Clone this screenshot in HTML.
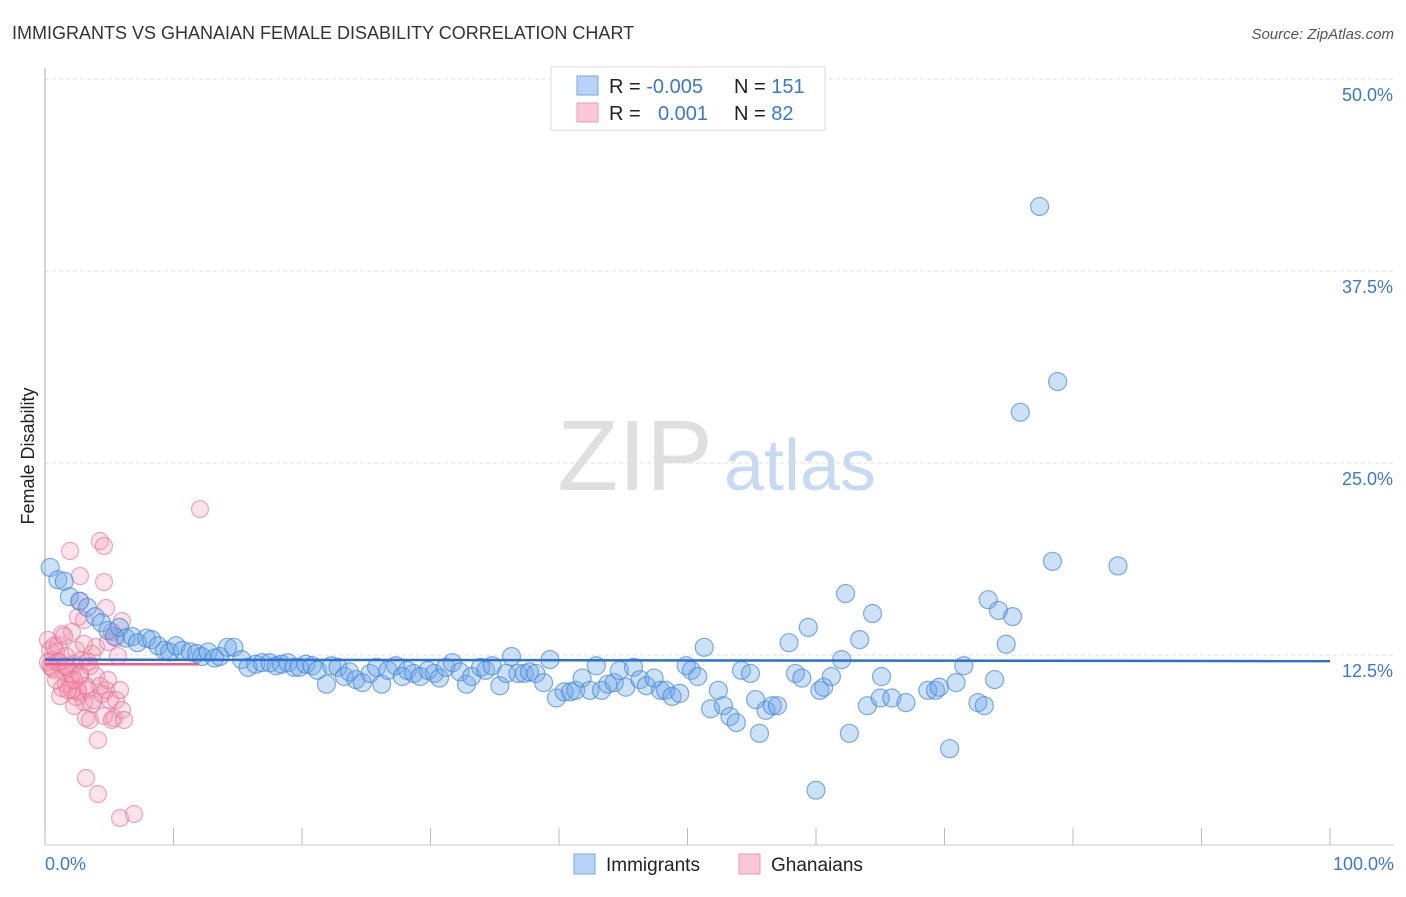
<!DOCTYPE html>
<html><head><meta charset="utf-8"><style>
body{margin:0;background:#fff;font-family:"Liberation Sans",sans-serif;}
svg text{font-family:"Liberation Sans",sans-serif;}
</style></head><body>
<svg id="chart" width="1406" height="892" xmlns="http://www.w3.org/2000/svg">
<text x="12" y="39" font-size="18" fill="#333">IMMIGRANTS VS GHANAIAN FEMALE DISABILITY CORRELATION CHART</text>
<text x="1394" y="39" font-size="15" fill="#555" text-anchor="end" font-style="italic">Source: ZipAtlas.com</text>
<g>
<text x="635" y="490" font-size="100" fill="#d8d8d8" text-anchor="middle" font-family="Liberation Serif,serif" opacity="0.8">ZIP</text>
<text x="800" y="490" font-size="72" fill="#c8daf2" text-anchor="middle">atlas</text>
</g>
<g id="grid"></g>
<line x1="45" y1="68" x2="45" y2="845" stroke="#aaa"/>
<line x1="45" y1="845" x2="1394" y2="845" stroke="#ccc"/>
<g id="xticks"></g>
<text x="45" y="870" font-size="18" fill="#3a78d0">0.0%</text>
<text x="1394" y="870" font-size="18" fill="#3a78d0" text-anchor="end">100.0%</text>
<text transform="translate(34,456) rotate(-90)" font-size="18" fill="#222" text-anchor="middle">Female Disability</text>
<g id="pink"></g><g id="blue"></g><g id="lines"></g>
<g>
<rect x="551" y="67" width="274" height="63" fill="#fff" stroke="#ddd"/>
<rect x="577" y="76" width="21" height="19" fill="#b8d3f5" stroke="#7aa7e0"/>
<rect x="577" y="103" width="21" height="19" fill="#f8c8d6" stroke="#ee9ab4"/>
<text x="609" y="93" font-size="20" fill="#222">R = <tspan fill="#3a78d0">-0.005</tspan></text>
<text x="734" y="93" font-size="20" fill="#222">N = <tspan fill="#3a78d0">151</tspan></text>
<text x="609" y="120" font-size="20" fill="#222">R = </text>
<text x="658" y="120" font-size="20" fill="#3a78d0">0.001</text>
<text x="734" y="120" font-size="20" fill="#222">N = <tspan fill="#3a78d0"> 82</tspan></text>
</g>
<g>
<rect x="574" y="854" width="21" height="20" fill="#b8d3f5" stroke="#7aa7e0"/>
<text x="606" y="871" font-size="19" fill="#222">Immigrants</text>
<rect x="739" y="854" width="21" height="20" fill="#f8c8d6" stroke="#ee9ab4"/>
<text x="771" y="871" font-size="19" fill="#222">Ghanaians</text>
</g>
</svg>
<script>
const yTicks=[12.5,25,37.5,50];
const yTickLabels=["12.5%","25.0%","37.5%","50.0%"];
const xTicks=[0,10,20,30,40,50,60,70,80,90,100];
const blueX=[0.4,1.0,1.5,1.9,2.7,3.3,3.9,4.4,4.9,5.4,5.8,6.3,6.8,7.2,7.9,8.3,8.8,9.3,9.7,10.2,10.7,11.3,11.8,12.2,12.7,13.2,13.6,14.2,14.7,15.3,15.8,16.4,16.9,17.5,18.0,18.4,18.9,19.4,19.8,20.3,20.8,21.2,21.9,22.3,22.8,23.3,23.7,24.2,24.7,25.3,25.8,26.2,26.7,27.3,27.8,28.2,28.7,29.2,29.8,30.3,30.7,31.2,31.7,32.3,32.8,33.2,33.9,34.3,34.8,35.4,35.9,36.3,36.8,37.3,37.7,38.2,38.8,39.3,39.8,40.4,40.9,41.3,41.8,42.4,42.9,43.3,43.8,44.3,44.7,45.2,45.8,46.3,46.8,47.4,47.9,48.3,48.8,49.4,49.9,50.3,50.8,51.3,51.8,52.4,52.8,53.3,53.8,54.2,54.9,55.3,55.6,56.1,56.6,57.0,57.9,58.4,58.9,59.4,60.0,60.3,60.6,61.2,62.0,62.3,62.6,63.4,64.0,64.4,65.1,65.0,65.9,67.0,68.7,69.3,69.6,70.4,70.9,71.5,72.6,73.1,73.4,73.9,74.2,74.8,75.3,75.9,77.4,78.4,78.8,83.5];
const blueY=[18.2,17.4,17.3,16.3,16.0,15.6,15.0,14.6,14.1,13.7,14.3,13.6,13.7,13.3,13.6,13.5,13.1,12.8,12.7,13.1,12.8,12.7,12.6,12.4,12.7,12.3,12.4,13.0,13.0,12.2,11.7,11.9,12.0,12.0,11.8,11.9,12.0,11.7,11.7,11.9,11.8,11.5,10.6,11.8,11.7,11.1,11.4,10.9,10.7,11.3,11.7,10.6,11.5,11.8,11.1,11.5,11.3,11.1,11.5,11.3,11.0,11.7,12.0,11.4,10.6,11.1,11.7,11.5,11.8,10.5,11.3,12.4,11.3,11.3,11.4,11.3,10.7,12.2,9.7,10.1,10.1,10.2,11.0,10.2,11.8,10.2,10.6,10.7,11.5,10.4,11.7,10.9,10.5,11.0,10.2,10.2,9.8,10.0,11.8,11.5,11.1,13.0,9.0,10.2,9.2,8.5,8.1,11.5,11.3,9.6,7.4,8.9,9.2,9.2,13.3,11.3,11.0,14.3,3.7,10.2,10.4,11.1,12.2,16.5,7.4,13.5,9.2,15.2,11.1,9.7,9.7,9.4,10.2,10.2,10.4,6.4,10.7,11.8,9.4,9.2,16.1,10.9,15.4,13.2,15.0,28.3,41.7,18.6,30.3,18.3];
const pinkX=[0.23,0.39,0.54,0.70,0.86,1.01,1.17,1.32,1.48,1.63,1.79,1.95,2.10,2.26,2.41,2.57,2.72,2.88,3.04,3.19,3.35,3.50,3.66,3.81,3.97,4.12,4.28,4.44,4.59,4.75,4.90,5.06,5.21,5.37,5.53,5.84,5.99,6.15,2.26,2.41,2.57,3.19,4.12,5.84,6.93,12.06,1.95,2.72,4.28,4.59,4.59,4.75,2.57,2.10,3.97,5.99,2.72,3.04,5.53,5.68,1.17,1.32,1.63,0.86,0.39,0.54,0.70,1.48,2.10,0.23,1.01,1.63,3.19,3.66,4.90,5.21,2.72,3.35,1.79,2.26,3.04,3.50];
const pinkY=[13.48,12.83,12.17,11.52,12.70,13.15,12.04,13.87,11.39,12.43,11.65,10.87,11.26,11.91,12.83,10.22,11.13,12.17,9.44,8.40,10.22,8.27,9.31,9.57,11.13,6.97,10.48,9.96,8.53,10.22,10.87,9.57,8.27,8.40,9.57,10.22,8.92,8.27,9.18,9.77,10.09,4.49,3.45,1.89,2.15,22.0,19.27,17.64,19.92,19.6,17.25,15.56,14.97,14.0,13.02,14.71,16.02,14.78,13.61,12.43,9.83,10.35,10.61,10.87,11.78,11.65,13.09,13.74,10.22,12.04,12.04,11.78,10.48,12.57,13.35,14.0,11.26,12.04,10.22,10.87,13.22,11.78];
const blueFit=[12.2,12.1];
const pinkFit=[11.9,11.9];
const pinkFitEnd=12;
const NS="http://www.w3.org/2000/svg";
const sx=v=>45+v*12.85;
const sy=v=>847-v*15.36;
function mk(tag,attrs,parent){const e=document.createElementNS(NS,tag);for(const k in attrs)e.setAttribute(k,attrs[k]);document.getElementById(parent).appendChild(e);return e;}
yTicks.forEach((t,i)=>{
 const l=mk('line',{x1:45,x2:1394,y1:sy(t),y2:sy(t),stroke:'#ddd','stroke-dasharray':'4,3'},'grid');
 
 
 const tx=mk('text',{x:1393,y:sy(t)+22,'font-size':18,fill:'#3a78d0','text-anchor':'end'},'grid');
 tx.textContent=yTickLabels[i];
 
 
});
xTicks.forEach(t=>{
 const l=mk('line',{x1:sx(t),x2:sx(t),y1:828,y2:845,stroke:'#bbb'},'xticks');
 
 
});
pinkX.forEach((x,i)=>{
 const c=mk('circle',{cx:sx(x),cy:sy(pinkY[i]),r:8.5,fill:'rgba(244,150,180,0.28)',stroke:'rgba(232,110,150,0.6)','stroke-width':1.2},'pink');
 
 
});
blueX.forEach((x,i)=>{
 const c=mk('circle',{cx:sx(x),cy:sy(blueY[i]),r:9,fill:'rgba(110,165,230,0.35)',stroke:'rgba(60,130,220,0.65)','stroke-width':1.2},'blue');
 
 
});
const bl=mk('line',{x1:sx(0),x2:sx(100),y1:sy(blueFit[0]),y2:sy(blueFit[1]),stroke:'#2a6fd6','stroke-width':2.5},'lines');


const pl=mk('line',{x1:sx(0),x2:sx(pinkFitEnd),y1:sy(pinkFit[0]),y2:sy(pinkFit[1]),stroke:'#e8608a','stroke-width':2.5},'lines');


</script>
</body></html>
